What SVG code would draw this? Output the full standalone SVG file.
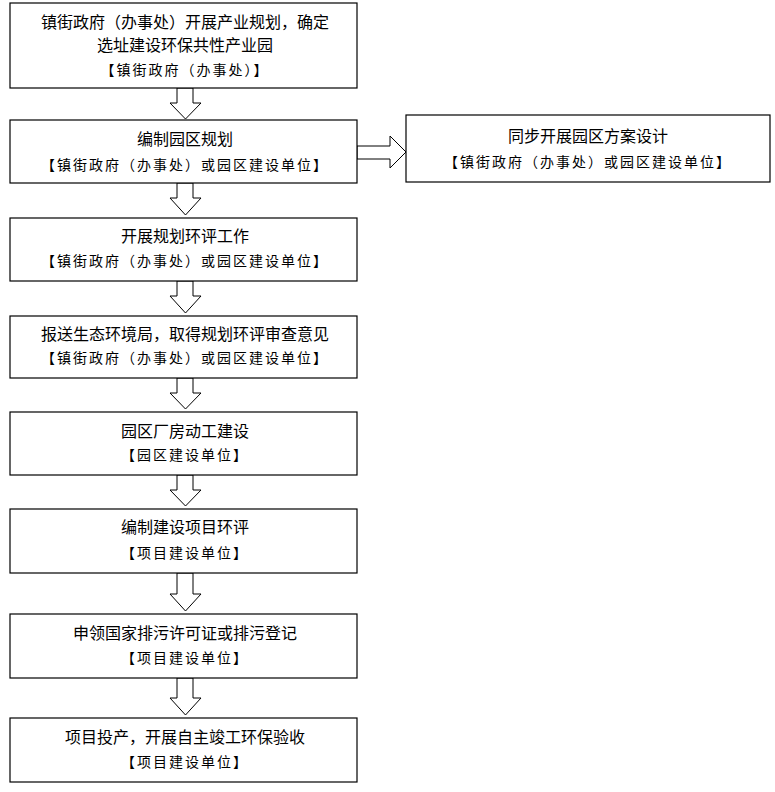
<svg xmlns="http://www.w3.org/2000/svg" width="775" height="792" viewBox="0 0 775 792">
<style>
.b{fill:#fff;stroke:#000;stroke-width:1.2}
.a{fill:#fff;stroke:#000;stroke-width:1}
text{font-family:"Noto Sans CJK SC",sans-serif;font-size:16px;fill:#000;text-anchor:middle}
.s{font-size:14px;letter-spacing:2px}
</style>
<rect width="775" height="792" fill="#fff"/>
<g id="connectors">
<path class="a" d="M177,88V103H170L185.5,119L201,103H193V88Z"/>
<path class="a" d="M177,183V198H170L185.5,215L201,198H193V183Z"/>
<path class="a" d="M177,281V296H170L185.5,313L201,296H193V281Z"/>
<path class="a" d="M177,378V393H170L185.5,409L201,393H193V378Z"/>
<path class="a" d="M177,475V490H170L185.5,506L201,490H193V475Z"/>
<path class="a" d="M177,573V594H170L185.5,611L201,594H193V573Z"/>
<path class="a" d="M177,678V698H170L185.5,715L201,698H193V678Z"/>
<path class="a" d="M357,146H390V136L406,152L390,168V159H357Z"/>
</g>
<g id="n1"><rect class="b" x="10" y="3" width="347" height="85"/><text x="185" y="28">镇街政府（办事处）开展产业规划，确定</text><text x="185" y="51">选址建设环保共性产业园</text><text class="s" x="185" y="75">【镇街政府（办事处）】</text></g>
<g id="n2"><rect class="b" x="10" y="120" width="347" height="63"/><text x="185" y="145">编制园区规划</text><text class="s" x="185" y="170">【镇街政府（办事处）或园区建设单位】</text></g>
<g id="n9"><rect class="b" x="406" y="115" width="364" height="67"/><text x="588" y="142">同步开展园区方案设计</text><text class="s" x="588" y="167">【镇街政府（办事处）或园区建设单位】</text></g>
<g id="n3"><rect class="b" x="10" y="218" width="347" height="63"/><text x="185" y="242">开展规划环评工作</text><text class="s" x="185" y="266">【镇街政府（办事处）或园区建设单位】</text></g>
<g id="n4"><rect class="b" x="10" y="316" width="347" height="62"/><text x="185" y="340">报送生态环境局，取得规划环评审查意见</text><text class="s" x="185" y="363">【镇街政府（办事处）或园区建设单位】</text></g>
<g id="n5"><rect class="b" x="10" y="412" width="347" height="63"/><text x="185" y="437">园区厂房动工建设</text><text class="s" x="185" y="460">【园区建设单位】</text></g>
<g id="n6"><rect class="b" x="10" y="509" width="347" height="64"/><text x="185" y="533">编制建设项目环评</text><text class="s" x="185" y="558">【项目建设单位】</text></g>
<g id="n7"><rect class="b" x="10" y="614" width="347" height="64"/><text x="185" y="639">申领国家排污许可证或排污登记</text><text class="s" x="185" y="663">【项目建设单位】</text></g>
<g id="n8"><rect class="b" x="10" y="718" width="347" height="64"/><text x="185" y="743">项目投产，开展自主竣工环保验收</text><text class="s" x="185" y="767">【项目建设单位】</text></g>
</svg>
